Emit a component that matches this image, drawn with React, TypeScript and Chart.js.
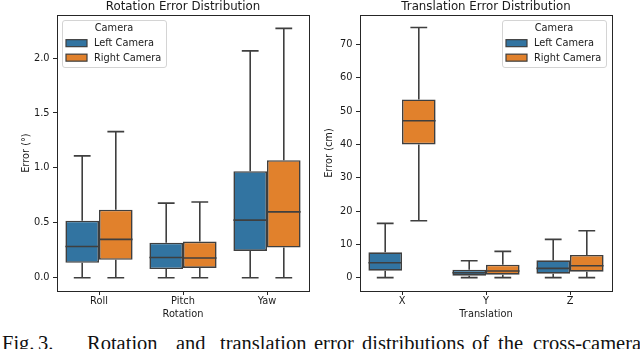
import React, { useEffect, useRef } from "react";
import { Chart, registerables } from "chart.js";

Chart.register(...registerables);

// ---------- data ----------
const cameraLabels = ["Left Camera", "Right Camera"];
const cameraColors = ["#3274a1", "#e1812c"];
const legendTitle = "Camera";

const rotCategories = ["Roll", "Pitch", "Yaw"];
const rotLeftMin = [0, 0, 0];
const rotLeftQ1 = [0.136, 0.08, 0.245];
const rotLeftMed = [0.285, 0.185, 0.525];
const rotLeftQ3 = [0.52, 0.32, 0.97];
const rotLeftMax = [1.11, 0.68, 2.065];
const rotRightMin = [0, 0, 0];
const rotRightQ1 = [0.164, 0.09, 0.276];
const rotRightMed = [0.35, 0.18, 0.6];
const rotRightQ3 = [0.62, 0.33, 1.07];
const rotRightMax = [1.33, 0.69, 2.27];
const rotTicks = [0, 0.5, 1.0, 1.5, 2.0];

const transCategories = ["X", "Y", "Z"];
const transLeftMin = [0, 0, 0];
const transLeftQ1 = [2.1, 0.6, 1.2];
const transLeftMed = [4.5, 1.5, 2.8];
const transLeftQ3 = [7.6, 2.4, 5.2];
const transLeftMax = [16.3, 5.1, 11.5];
const transRightMin = [17.1, 0, 0];
const transRightQ1 = [40.0, 0.9, 1.8];
const transRightMed = [47.1, 2.0, 3.6];
const transRightQ3 = [53.5, 3.9, 6.8];
const transRightMax = [75.1, 7.9, 14.1];
const transTicks = [0, 10, 20, 30, 40, 50, 60, 70];

const captionWords = ["Fig.", "3.", "Rotation", "and", "translation", "error", "distributions", "of", "the", "cross-camera"];
const captionLefts = [2, 38, 87, 176, 220, 314, 362, 472, 498, 533];

// ---------- styling ----------
const FONT = "DejaVu Sans";
const EDGE = "#3f3f3f";
const TEXT = "#1a1a1a";

function makeDataset(label: string, color: string, mins: number[], q1: number[], med: number[], q3: number[], maxs: number[]) {
  return {
    label,
    data: q1.map((v, i) => [v, q3[i]]),
    backgroundColor: color,
    borderColor: EDGE,
    borderWidth: 1.6,
    borderSkipped: false,
    categoryPercentage: 0.8,
    barPercentage: 1.0,
    lows: mins,
    meds: med,
    highs: maxs,
    q1s: q1,
    q3s: q3,
  } as any;
}

const boxPlugin = {
  id: "boxWhiskers",
  afterDatasetsDraw(chart: any) {
    const ctx = chart.ctx;
    const y = chart.scales.y;
    ctx.save();
    ctx.strokeStyle = EDGE;
    ctx.lineWidth = 1.6;
    chart.data.datasets.forEach((ds: any, di: number) => {
      const meta = chart.getDatasetMeta(di);
      meta.data.forEach((bar: any, i: number) => {
        const { x, width } = bar.getProps(["x", "width"], true);
        const pLow = y.getPixelForValue(ds.lows[i]);
        const pHigh = y.getPixelForValue(ds.highs[i]);
        const pQ1 = y.getPixelForValue(ds.q1s[i]);
        const pQ3 = y.getPixelForValue(ds.q3s[i]);
        const pMed = y.getPixelForValue(ds.meds[i]);
        ctx.beginPath();
        ctx.moveTo(x, pQ3);
        ctx.lineTo(x, pHigh);
        ctx.moveTo(x, pQ1);
        ctx.lineTo(x, pLow);
        ctx.moveTo(x - width / 4, pHigh);
        ctx.lineTo(x + width / 4, pHigh);
        ctx.moveTo(x - width / 4, pLow);
        ctx.lineTo(x + width / 4, pLow);
        ctx.moveTo(x - width / 2, pMed);
        ctx.lineTo(x + width / 2, pMed);
        ctx.stroke();
      });
    });
    ctx.restore();
  },
};

const framePlugin = {
  id: "frame",
  afterDraw(chart: any) {
    const { left, top, right, bottom } = chart.chartArea;
    const ctx = chart.ctx;
    ctx.save();
    ctx.strokeStyle = "#262626";
    ctx.lineWidth = 1;
    ctx.strokeRect(Math.round(left) + 0.5, Math.round(top) + 0.5, Math.round(right - left), Math.round(bottom - top));
    ctx.restore();
  },
};

function makeLegendPlugin(side: "left" | "right") {
  return {
    id: "boxLegend",
    afterDraw(chart: any) {
      const ctx = chart.ctx;
      const ca = chart.chartArea;
      const w = 104;
      const h = 47;
      const x0 = side === "left" ? ca.left + 5 : ca.right - 6 - w;
      const y0 = ca.top + 5;
      ctx.save();
      ctx.beginPath();
      ctx.roundRect(Math.round(x0) + 0.5, Math.round(y0) + 0.5, w, h, 2.5);
      ctx.fillStyle = "rgba(255,255,255,0.85)";
      ctx.fill();
      ctx.strokeStyle = "#d4d4d4";
      ctx.lineWidth = 1;
      ctx.stroke();
      ctx.font = `9.8px "${FONT}"`;
      ctx.fillStyle = TEXT;
      ctx.textBaseline = "middle";
      ctx.textAlign = "center";
      ctx.fillText(legendTitle, x0 + w / 2, y0 + 8.5);
      ctx.textAlign = "left";
      chart.data.datasets.forEach((ds: any, i: number) => {
        const cy = y0 + 23 + i * 14.5;
        ctx.fillStyle = ds.backgroundColor;
        ctx.fillRect(x0 + 4, cy - 3.5, 21, 7);
        ctx.strokeStyle = EDGE;
        ctx.lineWidth = 1.2;
        ctx.strokeRect(x0 + 4, cy - 3.5, 21, 7);
        ctx.fillStyle = TEXT;
        ctx.fillText(ds.label, x0 + 32, cy + 0.5);
      });
      ctx.restore();
    },
  };
}

type Spec = {
  title: string;
  categories: string[];
  datasets: any[];
  xTitle: string;
  yTitle: string;
  ticks: number[];
  decimals: number;
  min: number;
  max: number;
  yAxisWidth: number;
  yTitlePad: number;
  padRight: number;
  legendSide: "left" | "right";
};

const CANVAS_W = 320;
const CANVAS_H = 322;
const AREA_BOTTOM = 291;

function BoxChart({ spec, left }: { spec: Spec; left: number }) {
  const ref = useRef<HTMLCanvasElement>(null);
  useEffect(() => {
    if (!ref.current) return;
    const tickFont = { family: FONT, size: 9.8 };
    const chart = new Chart(ref.current, {
      type: "bar",
      data: { labels: spec.categories, datasets: spec.datasets },
      options: {
        animation: false,
        responsive: false,
        devicePixelRatio: 1,
        layout: { padding: { left: 0, right: spec.padRight, top: 0, bottom: 0 } },
        plugins: {
          legend: { display: false },
          tooltip: { enabled: false },
          title: {
            display: true,
            text: spec.title,
            fullSize: false,
            color: TEXT,
            font: { family: FONT, size: 11.8, weight: "normal" as any },
            padding: { top: 0, bottom: 1 },
          },
        },
        scales: {
          x: {
            type: "category",
            offset: true,
            grid: { display: true, drawOnChartArea: false, drawTicks: true, tickLength: 4, offset: false, color: "#262626", lineWidth: 1 },
            border: { display: false },
            ticks: { color: TEXT, font: tickFont, padding: 1, maxRotation: 0 },
            title: { display: true, text: spec.xTitle, color: TEXT, font: tickFont, padding: { top: 0, bottom: 1.5 } },
            afterFit: (s: any) => {
              s.height = CANVAS_H - AREA_BOTTOM;
            },
          } as any,
          y: {
            type: "linear",
            min: spec.min,
            max: spec.max,
            grid: { display: true, drawOnChartArea: false, drawTicks: true, tickLength: 4, color: "#262626", lineWidth: 1 },
            border: { display: false },
            ticks: {
              color: TEXT,
              font: tickFont,
              padding: 3.5,
              callback: (v: any) => Number(v).toFixed(spec.decimals),
            },
            title: { display: true, text: spec.yTitle, color: TEXT, font: tickFont, padding: { top: spec.yTitlePad, bottom: 0 } },
            afterBuildTicks: (s: any) => {
              s.ticks = spec.ticks.map((v) => ({ value: v }));
            },
            afterFit: (s: any) => {
              s.width = spec.yAxisWidth;
            },
          } as any,
        },
      },
      plugins: [boxPlugin, framePlugin, makeLegendPlugin(spec.legendSide)],
    });
    return () => chart.destroy();
  }, []);
  return (
    <canvas
      ref={ref}
      width={CANVAS_W}
      height={CANVAS_H}
      style={{ position: "absolute", left, top: 0, width: CANVAS_W, height: CANVAS_H, display: "block" }}
    />
  );
}

const rotSpec: Spec = {
  title: "Rotation Error Distribution",
  categories: rotCategories,
  datasets: [
    makeDataset(cameraLabels[0], cameraColors[0], rotLeftMin, rotLeftQ1, rotLeftMed, rotLeftQ3, rotLeftMax),
    makeDataset(cameraLabels[1], cameraColors[1], rotRightMin, rotRightQ1, rotRightMed, rotRightQ3, rotRightMax),
  ],
  xTitle: "Rotation",
  yTitle: "Error (°)",
  ticks: rotTicks,
  decimals: 1,
  min: -0.12,
  max: 2.39,
  yAxisWidth: 57,
  yTitlePad: 21,
  padRight: 11,
  legendSide: "left",
};

const transSpec: Spec = {
  title: "Translation Error Distribution",
  categories: transCategories,
  datasets: [
    makeDataset(cameraLabels[0], cameraColors[0], transLeftMin, transLeftQ1, transLeftMed, transLeftQ3, transLeftMax),
    makeDataset(cameraLabels[1], cameraColors[1], transRightMin, transRightQ1, transRightMed, transRightQ3, transRightMax),
  ],
  xTitle: "Translation",
  yTitle: "Error (cm)",
  ticks: transTicks,
  decimals: 0,
  min: -4,
  max: 78.8,
  yAxisWidth: 40,
  yTitlePad: 3.1,
  padRight: 28,
  legendSide: "right",
};

export default function App() {
  return (
    <div
      style={{
        position: "fixed",
        left: 0,
        top: 0,
        width: 640,
        height: 349,
        overflow: "hidden",
        background: "#ffffff",
      }}
    >
      <BoxChart spec={rotSpec} left={0} />
      <BoxChart spec={transSpec} left={320} />
      {captionWords.map((w, i) => (
        <span
          key={i}
          style={{
            position: "absolute",
            left: captionLefts[i],
            top: 333.4,
            fontFamily: '"Liberation Serif", serif',
            fontSize: 20.5,
            lineHeight: "20.5px",
            whiteSpace: "nowrap",
            color: "#111",
          }}
        >
          {w}
        </span>
      ))}
    </div>
  );
}
